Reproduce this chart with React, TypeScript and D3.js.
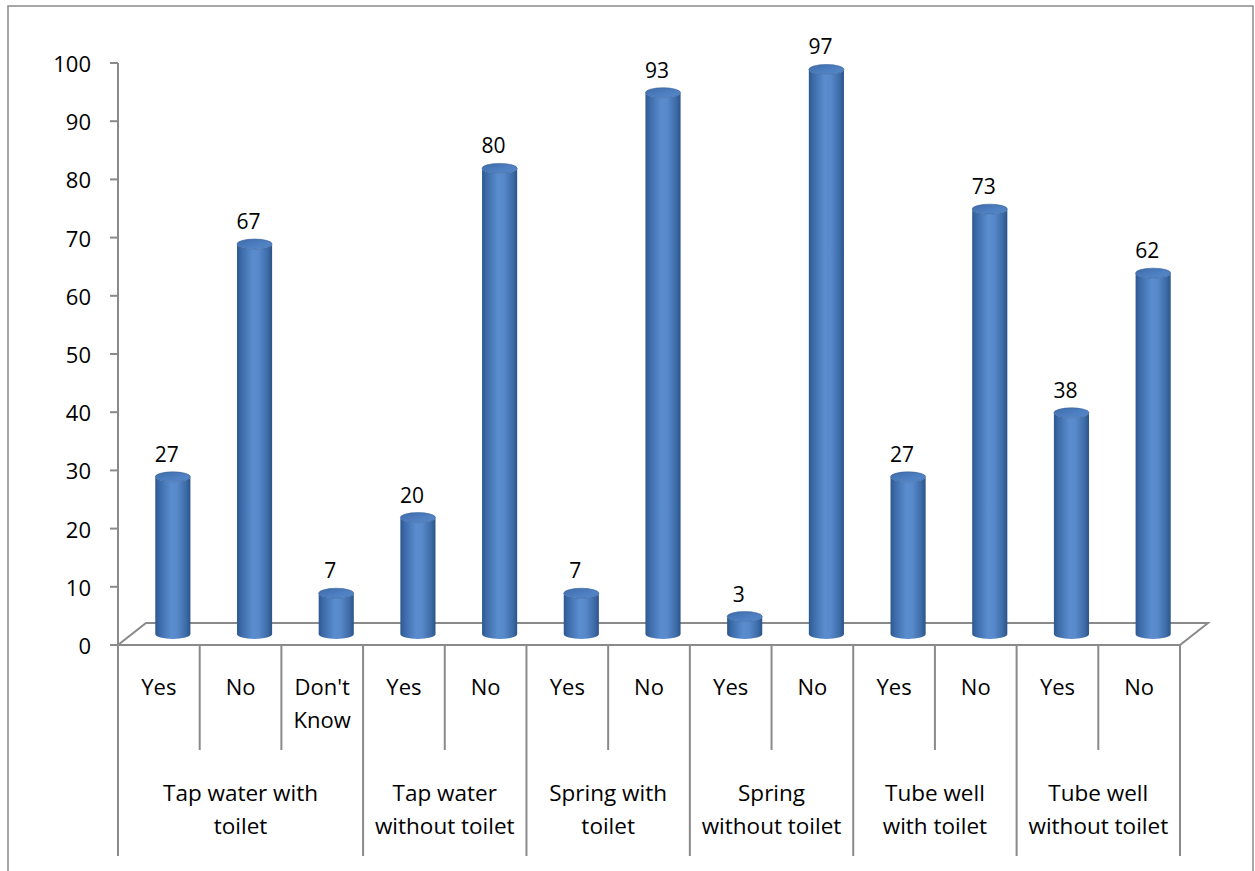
import React from "react";
import * as d3 from "d3";

const subLabels: string[][] = [
  ["Yes"], ["No"], ["Don't", "Know"],
  ["Yes"], ["No"],
  ["Yes"], ["No"],
  ["Yes"], ["No"],
  ["Yes"], ["No"],
  ["Yes"], ["No"],
];
const values: number[] = [27, 67, 7, 20, 80, 7, 93, 3, 97, 27, 73, 38, 62];
const groupLabels: string[][] = [
  ["Tap water with", "toilet"],
  ["Tap water", "without toilet"],
  ["Spring with", "toilet"],
  ["Spring", "without toilet"],
  ["Tube well", "with toilet"],
  ["Tube well", "without toilet"],
];
const groupSizes: number[] = [3, 2, 2, 2, 2, 2];
const yTicks: number[] = [0, 10, 20, 30, 40, 50, 60, 70, 80, 90, 100];

const W = 1255;
const H = 871;
const FONT = "'Open Sans', Carlito, Calibri, sans-serif";
const GRAY = "#8a8a8a";

export default function App() {
  const x = d3
    .scaleBand<number>()
    .domain(values.map((_, i) => i))
    .range([118, 1180])
    .padding(0);
  const y = d3.scaleLinear().domain([0, 100]).range([645, 63]);
  const dx = 28;
  const dy = -22;
  const bw = x.bandwidth();
  const rx = bw * 0.215;
  const ry = 5;
  const y0 = y(0);
  const x0 = x.range()[0];
  const x1 = x.range()[1];

  const bounds: number[] = [0];
  groupSizes.forEach((s) => bounds.push(bounds[bounds.length - 1] + s));

  return (
    <svg
      width={W}
      height={H}
      style={{ position: "absolute", left: 0, top: 0, background: "#fff" }}
      fontFamily={FONT}
    >
      <defs>
        <linearGradient id="cyl" x1="0" x2="1" y1="0" y2="0">
          <stop offset="0%" stopColor="#2d5890" />
          <stop offset="12%" stopColor="#3c6aa8" />
          <stop offset="45%" stopColor="#5a8dcf" />
          <stop offset="62%" stopColor="#5889ca" />
          <stop offset="88%" stopColor="#3d6ba7" />
          <stop offset="100%" stopColor="#2b5387" />
        </linearGradient>
        <linearGradient id="cap" x1="0" x2="1" y1="0" y2="1">
          <stop offset="0%" stopColor="#3d6ba8" />
          <stop offset="60%" stopColor="#4f80c2" />
          <stop offset="100%" stopColor="#5587c8" />
        </linearGradient>
      </defs>
      <rect x={8} y={6} width={1245} height={900} fill="none" stroke={GRAY} strokeWidth={1.5} />

      <polygon
        points={`${x0},${y0} ${x1},${y0} ${x1 + dx},${y0 + dy} ${x0 + dx},${y0 + dy}`}
        fill="#fff"
        stroke={GRAY}
        strokeWidth={2}
      />

      <line x1={x0} x2={x0} y1={y(100)} y2={y0} stroke={GRAY} strokeWidth={2} />
      {yTicks.map((t) => (
        <g key={t}>
          <line x1={x0 - 8} x2={x0} y1={y(t)} y2={y(t)} stroke={GRAY} strokeWidth={2} />
          <text
            x={91}
            y={y(t)}
            textAnchor="end"
            dominantBaseline="central"
            fontSize={22}
            fill="#000"
          >
            {t}
          </text>
        </g>
      ))}

      {d3.range(values.length + 1).map((i) => {
        const isGroup = bounds.includes(i);
        const xx = x0 + i * bw;
        return (
          <line
            key={i}
            x1={xx}
            x2={xx}
            y1={y0}
            y2={isGroup ? 856 : 750}
            stroke={GRAY}
            strokeWidth={2}
          />
        );
      })}

      {values.map((v, i) => {
        const cx = (x(i) as number) + bw / 2 + dx / 2;
        const yb = y0 + dy / 2;
        const yt = y(v) + dy / 2;
        const body = `M${cx - rx},${yt} L${cx - rx},${yb} A${rx},${ry} 0 0 0 ${cx + rx},${yb} L${cx + rx},${yt} A${rx},${ry} 0 0 1 ${cx - rx},${yt} Z`;
        return (
          <g key={i}>
            <path d={body} fill="url(#cyl)" />
            <ellipse cx={cx} cy={yt} rx={rx} ry={ry} fill="url(#cap)" stroke="#3a659d" strokeWidth={0.6} />
            <text
              x={(x(i) as number) + bw / 2 + 8}
              y={yt - 15}
              textAnchor="middle"
              fontSize={21}
              fill="#000"
            >
              {v}
            </text>
          </g>
        );
      })}

      {subLabels.map((lines, i) => (
        <text
          key={i}
          x={(x(i) as number) + bw / 2}
          textAnchor="middle"
          fontSize={22}
          fill="#000"
        >
          {lines.map((l, k) => (
            <tspan key={k} x={(x(i) as number) + bw / 2} y={695 + k * 33}>
              {l}
            </tspan>
          ))}
        </text>
      ))}

      {groupLabels.map((lines, g) => {
        const cxg = x0 + ((bounds[g] + bounds[g + 1]) / 2) * bw;
        return (
          <text key={g} textAnchor="middle" fontSize={22.5} fill="#000">
            {lines.map((l, k) => (
              <tspan key={k} x={cxg} y={801 + k * 33}>
                {l}
              </tspan>
            ))}
          </text>
        );
      })}
    </svg>
  );
}
